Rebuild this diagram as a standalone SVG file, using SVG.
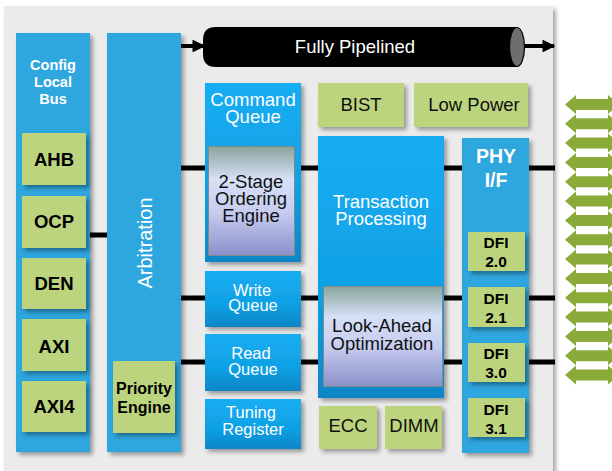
<svg xmlns="http://www.w3.org/2000/svg" width="612" height="471" viewBox="0 0 612 471">
  <defs>
    <linearGradient id="gBlue" x1="0" y1="0" x2="0" y2="1">
      <stop offset="0" stop-color="#16adf2"/>
      <stop offset="0.6" stop-color="#10a0e4"/>
      <stop offset="1" stop-color="#0a86c6"/>
    </linearGradient>
    <linearGradient id="gLav" x1="0" y1="0" x2="0" y2="1">
      <stop offset="0" stop-color="#8aa49c"/>
      <stop offset="0.3" stop-color="#d6e0f6"/>
      <stop offset="0.6" stop-color="#c7ccf0"/>
      <stop offset="1" stop-color="#8a90c8"/>
    </linearGradient>
    <filter id="shadow" x="-10%" y="-10%" width="130%" height="130%">
      <feDropShadow dx="3" dy="3" stdDeviation="2" flood-color="#000" flood-opacity="0.35"/>
    </filter>
    <marker id="arrow" viewBox="0 0 10 10" refX="9" refY="5" markerWidth="3.2" markerHeight="3.2" orient="auto" markerUnits="strokeWidth">
      <path d="M0,0 L10,5 L0,10 z" fill="#000"/>
    </marker>
    <symbol id="dualArrow" overflow="visible">
      <polygon points="0,0 11,-9.5 11,-5.5 43,-5.5 43,-9.5 54,0 43,9.5 43,5.5 11,5.5 11,9.5" fill="#8aab3a"/>
    </symbol>
  </defs>
  <style>
    .flat { fill: #2fa6de; filter: url(#shadow); }
    .grad { fill: url(#gBlue); filter: url(#shadow); }
    .lav { fill: url(#gLav); stroke: #7b8a8a; stroke-width: 1; }
    .green { fill: #bdd47e; filter: url(#shadow); }
    .bus { stroke: #000; stroke-width: 5; fill: none; }
    text { font-family: "Liberation Sans", Arial, sans-serif; text-anchor: middle; }
    .wb { fill: #fff; font-weight: bold; }
    .w { fill: #fff; }
    .kb { fill: #000; font-weight: bold; }
    .k { fill: #111; }
    .big { font-size: 18.5px; }
    .mid { font-size: 16.5px; }
    .lbl { font-size: 18.5px; }
    .dfi { font-size: 15.5px; }
  </style>

  <!-- controller panel -->
  <rect x="4" y="6" width="549" height="470" fill="#ebebeb" filter="url(#shadow)"/>

  <!-- connectors -->
  <g id="connectors">
    <line class="bus" x1="181" y1="168" x2="555" y2="168"/>
    <line class="bus" x1="181" y1="298" x2="555" y2="298"/>
    <line class="bus" x1="181" y1="362" x2="555" y2="362"/>
    <line class="bus" x1="88" y1="235" x2="109" y2="235"/>
    <line x1="181" y1="46" x2="204" y2="46" stroke="#000" stroke-width="4" marker-end="url(#arrow)"/>
    <line x1="520" y1="46" x2="554" y2="46" stroke="#000" stroke-width="4" marker-end="url(#arrow)"/>
  </g>

  <!-- pipeline -->
  <g id="pipeline">
    <path d="M216,27 H517 V67 H216 Q203,67 203,54 V40 Q203,27 216,27 Z" fill="#000"/>
    <ellipse cx="517" cy="47" rx="7.5" ry="19.5" fill="#6e6e6e" stroke="#000" stroke-width="1.2"/>
    <text x="355" y="53" class="w big">Fully Pipelined</text>
  </g>

  <!-- config local bus -->
  <g id="config-bus">
    <rect x="16" y="33" width="74" height="419" class="flat"/>
    <text x="53" y="70" class="wb" font-size="14.5">Config</text>
    <text x="53" y="87" class="wb" font-size="14.5">Local</text>
    <text x="53" y="104" class="wb" font-size="14.5">Bus</text>
  </g>
  <g id="ahb"><rect x="22" y="133" width="64" height="52" class="green"/><text x="54" y="166" class="kb lbl">AHB</text></g>
  <g id="ocp"><rect x="22" y="196" width="64" height="52" class="green"/><text x="54" y="228" class="kb lbl">OCP</text></g>
  <g id="den"><rect x="22" y="258" width="64" height="51" class="green"/><text x="54" y="290" class="kb lbl">DEN</text></g>
  <g id="axi"><rect x="22" y="319" width="64" height="52" class="green"/><text x="54" y="353" class="kb lbl">AXI</text></g>
  <g id="axi4"><rect x="22" y="381" width="64" height="51" class="green"/><text x="54" y="413" class="kb lbl">AXI4</text></g>

  <!-- arbitration -->
  <g id="arbitration">
    <rect x="107" y="33" width="74" height="419" class="flat"/>
    <text transform="translate(152,243) rotate(-90)" class="w" font-size="20">Arbitration</text>
  </g>
  <g id="priority-engine">
    <rect x="113" y="361" width="62" height="72" class="green"/>
    <text x="144" y="394" class="kb" font-size="16">Priority</text>
    <text x="144" y="413" class="kb" font-size="16">Engine</text>
  </g>

  <!-- queues -->
  <g id="command-queue">
    <rect x="205" y="83" width="96" height="179" class="grad"/>
    <text x="253" y="106" class="w big">Command</text>
    <text x="253" y="123" class="w big">Queue</text>
  </g>
  <g id="ordering-engine">
    <rect x="208.5" y="146.5" width="86" height="109" class="lav"/>
    <text x="251" y="188" class="k big">2-Stage</text>
    <text x="251" y="205" class="k big">Ordering</text>
    <text x="251" y="222" class="k big">Engine</text>
  </g>
  <g id="write-queue">
    <rect x="205" y="271" width="96" height="56" class="grad"/>
    <text x="252" y="296" class="w mid">Write</text>
    <text x="253" y="311" class="w mid">Queue</text>
  </g>
  <g id="read-queue">
    <rect x="205" y="334" width="96" height="57" class="grad"/>
    <text x="251" y="359" class="w mid">Read</text>
    <text x="253" y="375" class="w mid">Queue</text>
  </g>
  <g id="tuning-register">
    <rect x="205" y="399" width="96" height="50" class="grad"/>
    <text x="251" y="418" class="w mid">Tuning</text>
    <text x="253" y="435" class="w mid">Register</text>
  </g>

  <!-- utilities -->
  <g id="bist"><rect x="318" y="83" width="86" height="44" class="green"/><text x="361" y="111" class="k big">BIST</text></g>
  <g id="low-power"><rect x="414" y="83" width="114" height="44" class="green"/><text x="474" y="111" class="k big">Low Power</text></g>

  <!-- transaction processing -->
  <g id="transaction-processing">
    <rect x="318" y="136" width="126" height="262" class="grad"/>
    <text x="381" y="208" class="w big">Transaction</text>
    <text x="381" y="225" class="w big">Processing</text>
  </g>
  <g id="look-ahead">
    <rect x="323.5" y="286.5" width="119" height="100" class="lav"/>
    <text x="382" y="332" class="k big">Look-Ahead</text>
    <text x="382" y="350" class="k big">Optimization</text>
  </g>
  <g id="ecc"><rect x="319" y="406" width="58" height="43" class="green"/><text x="348" y="432" class="k big">ECC</text></g>
  <g id="dimm"><rect x="385" y="406" width="57" height="43" class="green"/><text x="414" y="432" class="k big">DIMM</text></g>

  <!-- PHY interface -->
  <g id="phy-if">
    <rect x="462" y="138" width="67" height="315" class="flat"/>
    <text x="496" y="163" class="wb" font-size="19.5">PHY</text>
    <text x="496" y="187" class="wb" font-size="19.5">I/F</text>
  </g>
  <g id="dfi-20"><rect x="468" y="232" width="57" height="39" class="green"/><text x="496" y="248" class="kb dfi">DFI</text><text x="496" y="267" class="kb dfi">2.0</text></g>
  <g id="dfi-21"><rect x="468" y="287" width="57" height="40" class="green"/><text x="496" y="304" class="kb dfi">DFI</text><text x="496" y="323" class="kb dfi">2.1</text></g>
  <g id="dfi-30"><rect x="468" y="343" width="57" height="39" class="green"/><text x="496" y="359" class="kb dfi">DFI</text><text x="496" y="378" class="kb dfi">3.0</text></g>
  <g id="dfi-31"><rect x="468" y="398" width="57" height="39" class="green"/><text x="496" y="415" class="kb dfi">DFI</text><text x="496" y="434" class="kb dfi">3.1</text></g>

  <!-- DDR signal lanes -->
  <g id="ddr-lanes">
    <use href="#dualArrow" x="565" y="104.5"/>
    <use href="#dualArrow" x="565" y="123.8"/>
    <use href="#dualArrow" x="565" y="143.1"/>
    <use href="#dualArrow" x="565" y="162.5"/>
    <use href="#dualArrow" x="565" y="181.8"/>
    <use href="#dualArrow" x="565" y="201.1"/>
    <use href="#dualArrow" x="565" y="220.4"/>
    <use href="#dualArrow" x="565" y="239.8"/>
    <use href="#dualArrow" x="565" y="259.1"/>
    <use href="#dualArrow" x="565" y="278.4"/>
    <use href="#dualArrow" x="565" y="297.7"/>
    <use href="#dualArrow" x="565" y="317.1"/>
    <use href="#dualArrow" x="565" y="336.4"/>
    <use href="#dualArrow" x="565" y="355.7"/>
    <use href="#dualArrow" x="565" y="375"/>
  </g>
</svg>
